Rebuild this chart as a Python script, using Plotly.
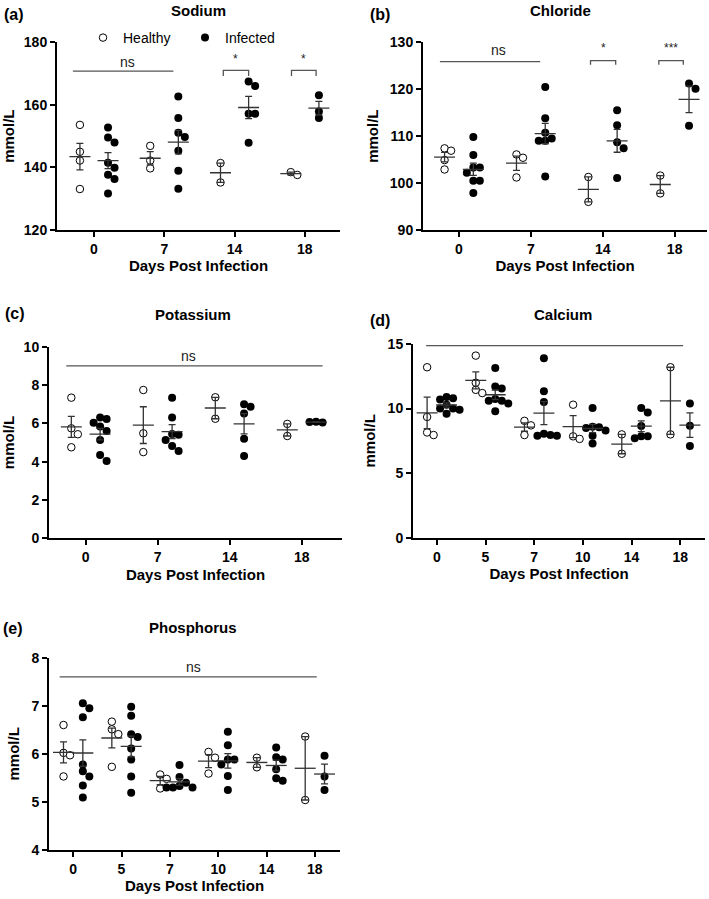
import numpy as np
import plotly.graph_objects as go

W, H = 709, 899

# ---------------- data (mmol/L) ----------------
NA_DAYS = ["0", "7", "14", "18"]
NA_HEALTHY = [[153.6, 145.0, 142.2, 133.1], [146.9, 142.2, 139.7], [141.4, 135.2], [138.5, 137.6]]
NA_INFECTED = [[152.8, 149.6, 148.0, 141.5, 139.9, 137.7, 136.3, 131.7],
               [162.7, 155.8, 151.1, 149.7, 145.3, 138.9, 133.2],
               [167.5, 166.0, 157.2, 157.2, 147.9],
               [163.1, 157.9, 155.8]]

CL_DAYS = ["0", "7", "14", "18"]
CL_HEALTHY = [[107.4, 106.9, 104.9, 102.9], [106.1, 105.4, 101.2], [101.3, 96.0], [101.6, 97.8]]
CL_INFECTED = [[109.8, 106.0, 103.3, 103.3, 102.2, 100.5, 100.5, 97.9],
               [120.5, 113.8, 110.7, 109.5, 109.0, 109.0, 101.4],
               [115.5, 112.3, 108.7, 107.4, 101.1],
               [121.2, 120.1, 112.2]]

K_DAYS = ["0", "7", "14", "18"]
K_HEALTHY = [[7.34, 5.74, 5.43, 4.75], [7.74, 5.48, 4.5], [7.36, 6.24], [5.97, 5.34]]
K_INFECTED = [[6.31, 6.22, 6.03, 5.83, 5.6, 5.13, 4.35, 4.03],
              [7.34, 6.30, 5.44, 5.41, 5.13, 4.82, 4.56],
              [6.99, 6.87, 6.52, 5.2, 4.3],
              [6.08, 6.05, 6.07]]

CA_DAYS = ["0", "5", "7", "10", "14", "18"]
CA_HEALTHY = [[13.2, 9.35, 8.15, 7.95], [14.1, 12.0, 11.45, 11.2], [9.05, 8.7, 7.95],
              [10.3, 7.85, 7.65], [8.0, 6.5], [13.2, 8.0]]
CA_INFECTED = [[10.9, 10.8, 10.7, 10.3, 10.0, 10.0, 9.9, 9.6],
               [13.15, 11.7, 11.55, 10.75, 10.6, 10.6, 10.4, 9.8],
               [13.9, 11.35, 10.5, 8.05, 7.95, 7.9, 7.9],
               [10.05, 8.6, 8.55, 8.5, 8.3, 7.9, 7.3],
               [10.05, 9.7, 8.65, 7.85, 7.85, 7.7],
               [10.4, 8.66, 7.1]]

P_DAYS = ["0", "5", "7", "10", "14", "18"]
P_HEALTHY = [[6.6, 6.02, 5.97, 5.53], [6.67, 6.51, 6.41, 5.73], [5.57, 5.48, 5.28],
             [6.04, 5.92, 5.59], [5.92, 5.72], [6.36, 5.04]]
P_INFECTED = [[7.05, 6.95, 6.76, 5.78, 5.64, 5.53, 5.34, 5.09],
              [6.98, 6.79, 6.41, 6.35, 6.11, 5.88, 5.53, 5.19],
              [5.77, 5.52, 5.4, 5.33, 5.3, 5.3, 5.3],
              [6.46, 6.18, 5.88, 5.88, 5.78, 5.54, 5.25],
              [6.13, 5.93, 5.88, 5.68, 5.49, 5.44],
              [5.96, 5.53, 5.25]]

TITLES = ["Sodium", "Chloride", "Potassium", "Calcium", "Phosphorus"]
LETTERS = ["(a)", "(b)", "(c)", "(d)", "(e)"]
Y_TICKS = [[120, 140, 160, 180], [90, 100, 110, 120, 130], [0, 2, 4, 6, 8, 10],
           [0, 5, 10, 15], [4, 5, 6, 7, 8]]

# ---------------- layout geometry (pixels) ----------------
PANELS = [
    dict(days=NA_DAYS, h=NA_HEALTHY, i=NA_INFECTED, box=(57, 42.3, 340, 230), xr=(-0.526, 3.50), yr=(120, 180)),
    dict(days=CL_DAYS, h=CL_HEALTHY, i=CL_INFECTED, box=(423, 42.3, 707, 230), xr=(-0.50, 3.45), yr=(90, 130)),
    dict(days=K_DAYS, h=K_HEALTHY, i=K_INFECTED, box=(49, 346.7, 342, 538.3), xr=(-0.51, 3.56), yr=(0, 10)),
    dict(days=CA_DAYS, h=CA_HEALTHY, i=CA_INFECTED, box=(413, 344, 705, 537.7), xr=(-0.49, 5.51), yr=(0, 15)),
    dict(days=P_DAYS, h=P_HEALTHY, i=P_INFECTED, box=(49, 657.7, 340, 850), xr=(-0.50, 5.52), yr=(4, 8)),
]
TITLE_POS = [(198, 11), (560, 11), (193, 314), (563, 314), (193, 627)]
LETTER_POS = [(14, 15), (380, 15), (15, 313), (380, 320), (13, 628)]

# significance marks: ns lines (x0, x1, y, text_x, text_y)
NS = [(-0.3, 1.13, 170.8, 0.48, 173.7), (-0.265, 1.13, 125.9, 0.55, 128.4),
      (-0.27, 3.29, 9.0, 1.43, 9.51), (-0.22, 5.06, 14.87, 2.57, 15.75),
      (-0.28, 5.04, 7.6, 2.48, 7.81)]
# brackets: (panel, x0, x1, y_top, y_leg, label, star_y)
BRACKETS = [(0, 1.84, 2.20, 171.0, 169.2, "*", 175.7), (0, 2.81, 3.16, 171.0, 169.2, "*", 175.7),
            (1, 1.83, 2.18, 126.1, 125.2, "*", 129.4), (1, 2.78, 3.12, 126.1, 125.2, "***", 129.4)]

OFF = 0.2      # group offset from category centre
DOT = 7.5      # marker diameter px
STEP = 6.5     # swarm step px
THR = 6.4      # collision distance px


def swarm(vals, ppx, ppy):
    placed = []
    offs = []
    cands = [0.0]
    for k in range(1, 8):
        cands += [k * STEP, -k * STEP]
    for v in vals:
        yp = v * ppy
        for c in cands:
            if all((c - a) ** 2 + (yp - b) ** 2 >= THR ** 2 for a, b in placed):
                break
        placed.append((c, yp))
        offs.append(c / ppx)
    return offs


fig = go.Figure()
layout = dict(width=W, height=H, margin=dict(l=0, r=0, t=0, b=0), autosize=False,
              paper_bgcolor="white", plot_bgcolor="white", template="none",
              font=dict(family="Liberation Sans, Arial, sans-serif", color="black"),
              showlegend=True)
shapes = []
annotations = []
GREY = "#333333"
LINEG = "#555555"

for n, p in enumerate(PANELS):
    sfx = "" if n == 0 else str(n + 1)
    xa, ya = "x" + sfx, "y" + sfx
    l, t, r, b = p["box"]
    ppx = (r - l) / (p["xr"][1] - p["xr"][0])
    ppy = (b - t) / (p["yr"][1] - p["yr"][0])

    traces = {}
    for key, sign in (("h", -1), ("i", 1)):
        xs, ys, mx, my, se = [], [], [], [], []
        for g, vals in enumerate(p[key]):
            cx = g + sign * OFF
            offs = swarm(vals, ppx, ppy)
            xs += [cx + o for o in offs]
            ys += list(vals)
            arr = np.array(vals)
            mx.append(cx)
            my.append(arr.mean())
            se.append(arr.std(ddof=1) / np.sqrt(len(arr)))
        traces[key] = (xs, ys, mx, my, se)

    # points
    hx, hy = traces["h"][0], traces["h"][1]
    ix, iy = traces["i"][0], traces["i"][1]
    fig.add_trace(go.Scatter(x=hx, y=hy, mode="markers", name="Healthy", xaxis=xa, yaxis=ya,
                             legendgroup="h", showlegend=(n == 0),
                             marker=dict(symbol="circle", size=DOT, color="white",
                                         line=dict(color="black", width=1))))
    fig.add_trace(go.Scatter(x=ix, y=iy, mode="markers", name="Infected", xaxis=xa, yaxis=ya,
                             legendgroup="i", showlegend=(n == 0),
                             marker=dict(symbol="circle", size=DOT + 0.5, color="black",
                                         line=dict(color="black", width=0))))
    # mean +/- SEM
    for key in ("h", "i"):
        _, _, mx, my, se = traces[key]
        fig.add_trace(go.Scatter(x=mx, y=my, mode="markers", xaxis=xa, yaxis=ya, showlegend=False,
                                 hoverinfo="skip",
                                 marker=dict(symbol="line-ew", size=15, color=GREY,
                                             line=dict(color=GREY, width=1.3)),
                                 error_y=dict(type="data", array=se, visible=True, color=GREY,
                                              thickness=1.3, width=3.5)))

    axfont = dict(size=14, weight="bold", color="black", family="Liberation Sans, Arial, sans-serif")
    layout["xaxis" + sfx] = dict(domain=[l / W, r / W], range=list(p["xr"]), anchor=ya,
                                 tickmode="array", tickvals=list(range(len(p["days"]))),
                                 ticktext=p["days"], showline=True, linecolor="black", linewidth=2,
                                 ticks="outside", ticklen=5, tickwidth=2, tickcolor="black",
                                 showgrid=False, zeroline=False, tickfont=axfont, automargin=False,
                                 title=dict(text="Days Post Infection", standoff=5,
                                            font=dict(size=15, weight="bold", color="black")))
    layout["yaxis" + sfx] = dict(domain=[1 - b / H, 1 - t / H], range=list(p["yr"]), anchor=xa,
                                 tickmode="array", tickvals=Y_TICKS[n],
                                 showline=True, linecolor="black", linewidth=2,
                                 ticks="outside", ticklen=5, tickwidth=2, tickcolor="black",
                                 showgrid=False, zeroline=False, tickfont=axfont, automargin=False,
                                 title=dict(text="mmol/L", standoff=8,
                                            font=dict(size=15, weight="bold", color="black")))

    # titles
    tx, ty = TITLE_POS[n]
    annotations.append(dict(text=TITLES[n], x=tx / W, y=1 - ty / H, xref="paper", yref="paper",
                            showarrow=False, xanchor="center", yanchor="middle",
                            font=dict(size=15, weight="bold")))
    lx, ly = LETTER_POS[n]
    annotations.append(dict(text=LETTERS[n], x=lx / W, y=1 - ly / H, xref="paper", yref="paper",
                            showarrow=False, xanchor="center", yanchor="middle",
                            font=dict(size=16, weight="bold")))
    # ns line
    x0, x1, yl, ntx, nty = NS[n]
    shapes.append(dict(type="line", xref=xa, yref=ya, x0=x0, x1=x1, y0=yl, y1=yl,
                       line=dict(color=LINEG, width=1.3)))
    annotations.append(dict(text="ns", x=ntx, y=nty, xref=xa, yref=ya, showarrow=False,
                            xanchor="center", yanchor="middle", font=dict(size=14, color="#222")))

for (pn, x0, x1, yt, yl, lab, sy) in BRACKETS:
    sfx = "" if pn == 0 else str(pn + 1)
    xa, ya = "x" + sfx, "y" + sfx
    shapes.append(dict(type="path", xref=xa, yref=ya,
                       path=f"M {x0} {yl} L {x0} {yt} L {x1} {yt} L {x1} {yl}",
                       line=dict(color=LINEG, width=1.3)))
    annotations.append(dict(text=lab, x=(x0 + x1) / 2, y=sy, xref=xa, yref=ya, showarrow=False,
                            xanchor="center", yanchor="middle", yshift=-3,
                            font=dict(size=12, color="#222")))

layout["shapes"] = shapes
layout["annotations"] = annotations
layout["legend"] = dict(orientation="h", x=83 / W, y=1 - 22 / H, xanchor="left", yanchor="top",
                        font=dict(size=14, color="black"), bgcolor="rgba(0,0,0,0)",
                        entrywidthmode="pixels", entrywidth=57, itemsizing="trace")
fig.update_layout(**layout)
fig.write_html("out.html", config={"displayModeBar": False},
               post_script="document.body.style.margin='0px';document.body.style.overflow='hidden';")
